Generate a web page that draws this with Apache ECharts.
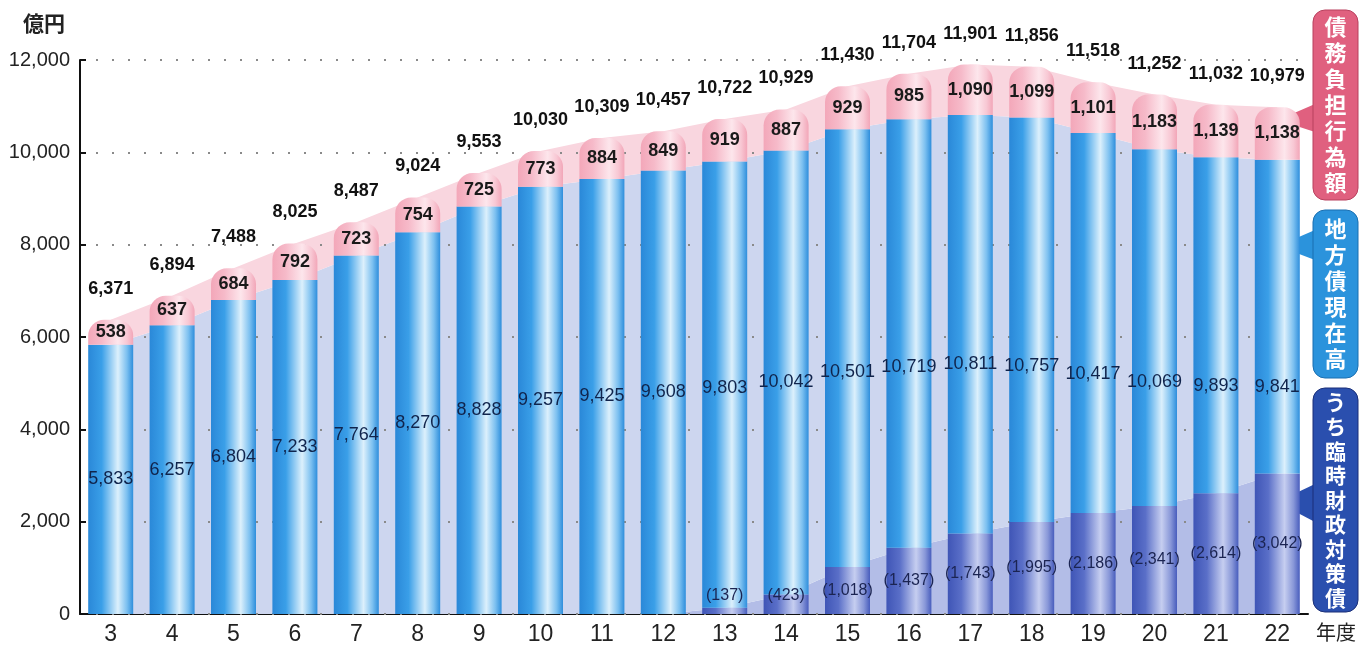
<!DOCTYPE html>
<html>
<head>
<meta charset="utf-8">
<script src="https://cdn.jsdelivr.net/npm/echarts@6/dist/echarts.min.js"></script>
<style>
  html, body { margin: 0; padding: 0; background: #fff; }
  #chart { width: 1369px; height: 649px; }
</style>
</head>
<body>
<div id="chart"></div>
<script>
// 年度
const years = ['3', '4', '5', '6', '7', '8', '9', '10', '11', '12', '13', '14', '15', '16', '17', '18', '19', '20', '21', '22']
// 地方債現在高
const bonds = [5833, 6257, 6804, 7233, 7764, 8270, 8828, 9257, 9425, 9608, 9803, 10042, 10501, 10719, 10811, 10757, 10417, 10069, 9893, 9841]
// うち臨時財政対策債
const tempBonds = [null, null, null, null, null, null, null, null, null, null, 137, 423, 1018, 1437, 1743, 1995, 2186, 2341, 2614, 3042]
// 債務負担行為額
const burden = [538, 637, 684, 792, 723, 754, 725, 773, 884, 849, 919, 887, 929, 985, 1090, 1099, 1101, 1183, 1139, 1138]
// 合計
const totals = [6371, 6894, 7488, 8025, 8487, 9024, 9553, 10030, 10309, 10457, 10722, 10929, 11430, 11704, 11901, 11856, 11518, 11252, 11032, 10979]
const yTicks = [0, 2000, 4000, 6000, 8000, 10000, 12000]

const numFont = "'Liberation Sans', sans-serif"
const jpFont = "'Noto Sans CJK JP', sans-serif"
const fmt = v => v.toLocaleString('en-US')

const tempBase = tempBonds.map(v => v || 0)
const bondRest = bonds.map((v, i) => v - tempBase[i])

function hGrad (stops) {
  return new echarts.graphic.LinearGradient(0, 0, 1, 0, stops.map(c => ({ offset: c[0], color: c[1] })))
}
const blueGrad = hGrad([[0, '#2a88d8'], [0.3, '#3a9fe8'], [0.66, '#dcf0fc'], [0.86, '#7cc0f0'], [1, '#2e8edc']])
const darkGrad = hGrad([[0, '#3f55b6'], [0.3, '#5a6fc8'], [0.66, '#c6cef0'], [0.86, '#8897d8'], [1, '#485dbd']])
const pinkGrad = hGrad([[0, '#f3a7b9'], [0.3, '#f6bac9'], [0.66, '#fde6ec'], [0.86, '#f8c8d4'], [1, '#f2a6b8']])

const bgLine = (name, data, color) => ({
  name,
  type: 'line',
  stack: 'bg',
  data,
  z: 1,
  symbol: 'none',
  silent: true,
  lineStyle: { width: 0 },
  areaStyle: { color, opacity: 1 }
})

const option = {
  animation: false,
  title: {
    text: '億円',
    left: 18,
    top: 8,
    textStyle: { fontFamily: jpFont, fontSize: 21, fontWeight: 'bold', color: '#222' }
  },
  grid: { left: 80, right: 61, top: 60, bottom: 35 },
  xAxis: {
    type: 'category',
    data: years,
    axisLine: { lineStyle: { color: '#111', width: 2 } },
    axisTick: { inside: true, length: 10, lineStyle: { color: '#111', width: 2 } },
    axisLabel: { fontFamily: numFont, fontSize: 23, color: '#222', margin: 9 }
  },
  yAxis: {
    type: 'value',
    min: 0,
    max: 12000,
    interval: 2000,
    z: 1.5,
    axisLine: { show: true, lineStyle: { color: '#111', width: 2 } },
    axisTick: { show: true, inside: true, length: 6, lineStyle: { color: '#111', width: 2 } },
    axisLabel: {
      fontFamily: numFont, fontSize: 20, color: '#222', margin: 10,
      formatter: v => yTicks.includes(v) ? fmt(v) : ''
    },
    splitLine: { lineStyle: { color: '#8a8a8a', type: [2, 14], width: 2 } }
  },
  series: [
    bgLine('bgTemp', tempBase, '#b3bde7'),
    bgLine('bgBond', bondRest, '#cdd6ef'),
    bgLine('bgBurden', burden, '#f9d6df'),
    {
      name: 'うち臨時財政対策債',
      type: 'bar',
      stack: 'bar',
      barWidth: 45,
      barGap: '-100%',
      data: tempBonds.map(v => {
        if (v !== null && v < 600) {
          return { value: v, label: { position: 'insideBottom', distance: 10 } }
        }
        return v
      }),
      itemStyle: { color: darkGrad },
      label: {
        show: true,
        position: 'inside',
        fontFamily: numFont,
        fontSize: 16,
        color: '#1b2452',
        formatter: p => p.value ? '(' + fmt(p.value) + ')' : ''
      }
    },
    {
      name: '地方債現在高',
      type: 'bar',
      stack: 'bar',
      barWidth: 45,
      barGap: '-100%',
      data: bondRest,
      itemStyle: { color: blueGrad }
    },
    {
      name: '債務負担行為額',
      type: 'bar',
      stack: 'bar',
      barWidth: 45,
      barGap: '-100%',
      data: burden,
      itemStyle: { color: pinkGrad, borderRadius: [16, 16, 0, 0] },
      label: {
        show: true,
        position: 'inside',
        fontFamily: numFont,
        fontSize: 18,
        fontWeight: 'bold',
        color: '#1a1a1a',
        formatter: p => fmt(p.value)
      }
    },
    {
      name: 'bondsLabel',
      type: 'bar',
      barWidth: 45,
      barGap: '-100%',
      z: 3,
      silent: true,
      data: bonds,
      itemStyle: { color: 'rgba(0,0,0,0)' },
      label: {
        show: true,
        position: 'inside',
        fontFamily: numFont,
        fontSize: 18,
        color: '#10244c',
        formatter: p => fmt(p.value)
      }
    },
    {
      name: 'totalLabel',
      type: 'bar',
      barWidth: 45,
      barGap: '-100%',
      z: 3,
      silent: true,
      data: totals,
      itemStyle: { color: 'rgba(0,0,0,0)' },
      label: {
        show: true,
        position: 'top',
        distance: 22,
        fontFamily: numFont,
        fontSize: 18,
        fontWeight: 'bold',
        color: '#111',
        formatter: p => fmt(p.value)
      }
    }
  ],
  graphic: [
    {
      type: 'text',
      left: 1316,
      top: 622,
      style: { text: '年度', font: '20px ' + jpFont, fill: '#222' }
    },
    // 債務負担行為額
    {
      type: 'polygon',
      shape: { points: [[1315, 104], [1278, 120], [1315, 132]] },
      style: { fill: '#e0607f' }
    },
    {
      type: 'rect',
      shape: { x: 1313, y: 10, width: 45, height: 190, r: 12 },
      style: { fill: '#e0607f', stroke: '#b8405e', lineWidth: 1 }
    },
    {
      type: 'text',
      x: 1335.5,
      y: 105,
      style: {
        text: '債務負担行為額'.split('').join('\n'),
        font: 'bold 22px ' + jpFont, fill: '#fff', lineHeight: 26,
        align: 'center', verticalAlign: 'middle'
      }
    },
    // 地方債現在高
    {
      type: 'polygon',
      shape: { points: [[1315, 230], [1278, 246], [1315, 260]] },
      style: { fill: '#2b93dc' }
    },
    {
      type: 'rect',
      shape: { x: 1313, y: 210, width: 45, height: 168, r: 12 },
      style: { fill: '#2b93dc', stroke: '#1a6fb0', lineWidth: 1 }
    },
    {
      type: 'text',
      x: 1335.5,
      y: 294,
      style: {
        text: '地方債現在高'.split('').join('\n'),
        font: 'bold 22px ' + jpFont, fill: '#fff', lineHeight: 26,
        align: 'center', verticalAlign: 'middle'
      }
    },
    // うち臨時財政対策債
    {
      type: 'polygon',
      shape: { points: [[1315, 484], [1277, 502], [1315, 522]] },
      style: { fill: '#2a4fae' }
    },
    {
      type: 'rect',
      shape: { x: 1313, y: 388, width: 45, height: 224, r: 12 },
      style: { fill: '#2a4fae', stroke: '#1a2f78', lineWidth: 1 }
    },
    {
      type: 'text',
      x: 1335.5,
      y: 500,
      style: {
        text: 'うち臨時財政対策債'.split('').join('\n'),
        font: 'bold 21px ' + jpFont, fill: '#fff', lineHeight: 24.5,
        align: 'center', verticalAlign: 'middle'
      }
    }
  ]
}

const chart = echarts.init(document.getElementById('chart'))
chart.setOption(option)
</script>
</body>
</html>
